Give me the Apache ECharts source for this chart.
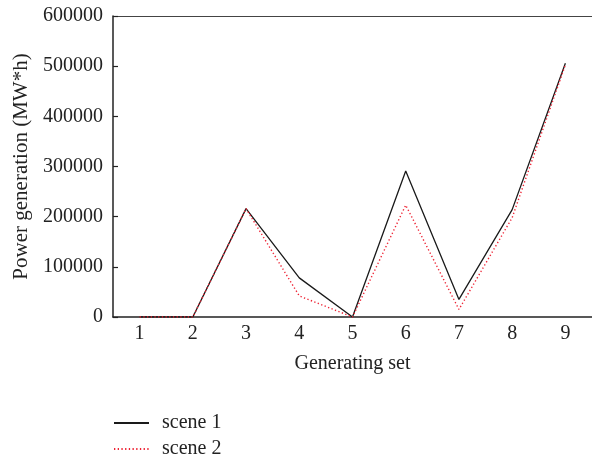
<!DOCTYPE html>
<html>
<head>
<meta charset="utf-8">
<script src="https://cdn.jsdelivr.net/npm/echarts@6/dist/echarts.min.js"></script>
<style>html,body{margin:0;padding:0;background:#fff;}#c{width:592px;height:455px;}</style>
</head>
<body>
<div id="c"></div>
<script>
var categories = ['1','2','3','4','5','6','7','8','9'];
var scene1 = [0, 0, 216000, 78000, 0, 291000, 35000, 214000, 506000];
var scene2 = [0, 0, 216000, 42000, 0, 223000, 15000, 198000, 503000];
var yTicks = [0, 100000, 200000, 300000, 400000, 500000, 600000];
var seriesNames = ['scene 1', 'scene 2'];

var font = 'Liberation Serif';
function makeLegend(name, top) {
  return {
    orient: 'horizontal', left: 113, top: top, padding: 0,
    itemWidth: 35, itemHeight: 14,
    itemStyle: {opacity: 0},
    textStyle: {fontFamily: font, fontSize: 20, lineHeight: 14, color: '#222', padding: [0, 0, 0, 8]},
    data: [name]
  };
}
var chart = echarts.init(document.getElementById('c'));
chart.setOption({
  animation: false,
  textStyle: {fontFamily: font},
  grid: {left: 113, top: 16, right: -2, bottom: 138, containLabel: false},
  legend: [makeLegend(seriesNames[0], 413), makeLegend(seriesNames[1], 439)],
  xAxis: [{
    type: 'category', data: categories, boundaryGap: true,
    name: 'Generating set', nameLocation: 'middle', nameGap: 37,
    nameTextStyle: {fontFamily: font, fontSize: 20, color: '#222'},
    axisLine: {lineStyle: {color: '#222', width: 1.5}},
    axisTick: {inside: true, length: 5, lineStyle: {color: '#222', width: 1.2}},
    axisLabel: {fontFamily: font, fontSize: 20, color: '#222', margin: 7}
  }, {
    type: 'category', data: categories, position: 'top',
    axisLine: {lineStyle: {color: '#444', width: 1.2}},
    axisTick: {show: false}, axisLabel: {show: false}
  }],
  yAxis: {
    type: 'value', min: yTicks[0], max: yTicks[yTicks.length - 1], interval: 100000,
    name: 'Power generation (MW*h)', nameLocation: 'middle', nameGap: 79,
    nameTextStyle: {fontFamily: font, fontSize: 21, color: '#222'},
    axisLine: {show: true, lineStyle: {color: '#222', width: 1.5}},
    axisTick: {show: true, inside: true, length: 5, lineStyle: {color: '#222', width: 1.2}},
    splitLine: {show: false},
    axisLabel: {fontFamily: font, fontSize: 20, color: '#222', margin: 10, formatter: function (v) { return String(v); }}
  },
  series: [{
    name: seriesNames[0], type: 'line', data: scene1, symbol: 'none',
    lineStyle: {color: '#1a1a1a', width: 1.3}, itemStyle: {color: '#1a1a1a'}
  }, {
    name: seriesNames[1], type: 'line', data: scene2, symbol: 'none',
    lineStyle: {color: '#ee2233', width: 1.4, type: [1.3, 2.4]}, itemStyle: {color: '#ee2233'}
  }]
});
</script>
</body>
</html>
